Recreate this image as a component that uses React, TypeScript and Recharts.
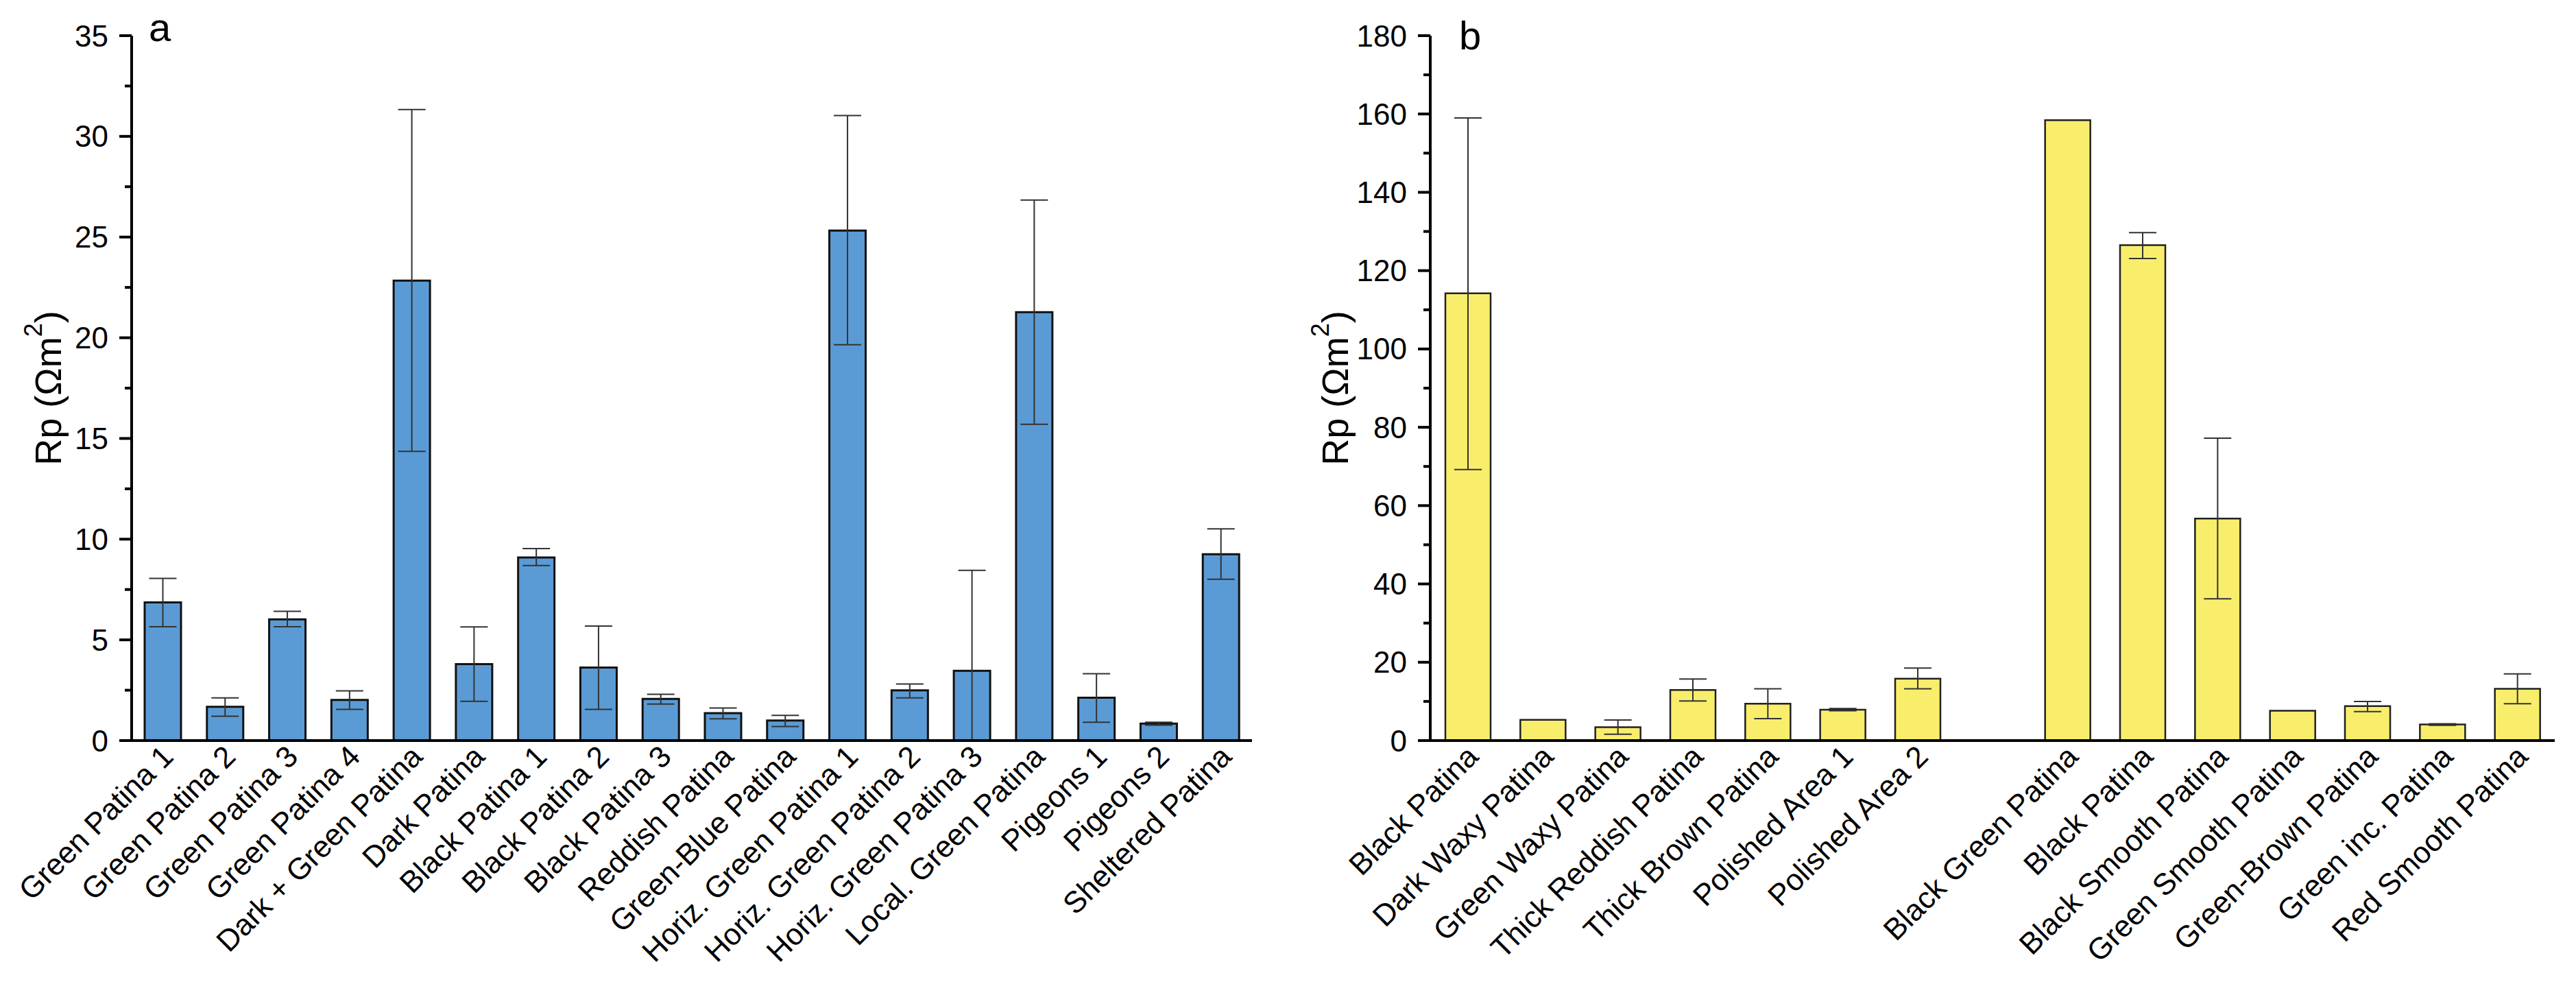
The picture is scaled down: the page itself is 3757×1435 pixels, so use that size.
import React from 'react';
import { BarChart, Bar, XAxis, YAxis, ErrorBar } from 'recharts';

// ---------- Panel a ----------
const namesA = [
  'Green Patina 1', 'Green Patina 2', 'Green Patina 3', 'Green Patina 4',
  'Dark + Green Patina', 'Dark Patina', 'Black Patina 1', 'Black Patina 2',
  'Black Patina 3', 'Reddish Patina', 'Green-Blue Patina', 'Horiz. Green Patina 1',
  'Horiz. Green Patina 2', 'Horiz. Green Patina 3', 'Local. Green Patina',
  'Pigeons 1', 'Pigeons 2', 'Sheltered Patina',
];
const valuesA = [6.86, 1.68, 6.02, 2.02, 22.84, 3.8, 9.09, 3.63, 2.07, 1.36, 1.0, 25.32, 2.49, 3.46, 21.27, 2.13, 0.84, 9.25];
const errLowA = [1.21, 0.47, 0.37, 0.47, 8.48, 1.85, 0.4, 2.08, 0.26, 0.28, 0.3, 5.67, 0.37, 3.46, 5.57, 1.22, 0.07, 1.24];
const errHighA = [1.19, 0.44, 0.4, 0.45, 8.49, 1.84, 0.44, 2.06, 0.23, 0.26, 0.25, 5.71, 0.32, 4.99, 5.57, 1.19, 0.07, 1.26];
const ticksA = [0, 2.5, 5, 7.5, 10, 12.5, 15, 17.5, 20, 22.5, 25, 27.5, 30, 32.5, 35];

// ---------- Panel b ----------
const namesB = [
  'Black Patina', 'Dark Waxy Patina', 'Green Waxy Patina', 'Thick Reddish Patina',
  'Thick Brown Patina', 'Polished Area 1', 'Polished Area 2', '',
  'Black Green Patina', 'Black Patina', 'Black Smooth Patina', 'Green Smooth Patina',
  'Green-Brown Patina', 'Green inc. Patina', 'Red Smooth Patina',
];
const valuesB = [114.2, 5.3, 3.4, 12.9, 9.4, 7.9, 15.8, null, 158.4, 126.5, 56.7, 7.6, 8.8, 4.1, 13.2];
const errLowB = [45.0, null, 1.8, 2.8, 3.8, 0.3, 2.6, null, null, 3.4, 20.5, null, 1.4, 0.2, 3.8];
const errHighB = [44.8, null, 1.85, 2.8, 3.8, 0.3, 2.7, null, null, 3.2, 20.5, null, 1.2, 0.2, 3.85];
const ticksB = [0, 10, 20, 30, 40, 50, 60, 70, 80, 90, 100, 110, 120, 130, 140, 150, 160, 170, 180];

const dataA = namesA.map((name, i) => ({ name, value: valuesA[i], err: [errLowA[i], errHighA[i]] }));
const dataB = namesB.map((name, i) => ({
  name,
  value: valuesB[i],
  err: errLowB[i] == null ? null : [errLowB[i], errHighB[i]],
}));

const FONT = '"Liberation Sans", Arial, Helvetica, sans-serif';

const makeYTick = (majorStep: number) => (props: any) => {
  const { x, y, payload } = props;
  const v = payload.value;
  const major = Math.abs(v / majorStep - Math.round(v / majorStep)) < 1e-6;
  return (
    <g>
      <line x1={x - (major ? 18 : 10)} x2={x} y1={y} y2={y} stroke="#000" strokeWidth={4} />
      {major && (
        <text x={x - 34} y={y} textAnchor="end" dominantBaseline="central" fontSize={44} fontFamily={FONT} fill="#000">
          {v}
        </text>
      )}
    </g>
  );
};

const XTick = (props: any) => {
  const { x, y, payload } = props;
  const ax = x + 18;
  const ay = y + 26;
  return (
    <text
      x={ax}
      y={ay}
      transform={`rotate(-45 ${ax} ${ay})`}
      textAnchor="end"
      fontSize={44}
      fontFamily={FONT}
      fill="#000"
    >
      {payload.value}
    </text>
  );
};

const makeAxisLabel = (letter: string, rpOffset: number, letterDx: number, letterBaseline: number) => (props: any) => {
  const vb = props.viewBox || {};
  const axisX = (vb.x || 0) + (vb.width || 0);
  const cx = axisX - rpOffset;
  const cy = (vb.y || 0) + (vb.height || 0) / 2;
  return (
    <g>
      <text
        x={cx}
        y={cy}
        transform={`rotate(-90 ${cx} ${cy})`}
        textAnchor="middle"
        dominantBaseline="central"
        fontSize={54}
        fontFamily={FONT}
        fill="#000"
      >
        Rp (Ωm<tspan dy={-22} fontSize={36}>2</tspan><tspan dy={22}>)</tspan>
      </text>
      <text x={axisX + letterDx} y={letterBaseline} fontSize={58} fontFamily={FONT} fill="#000">
        {letter}
      </text>
    </g>
  );
};

export default function App() {
  return (
    <div style={{ position: 'absolute', left: 0, top: 0, width: 3757, height: 1435, background: '#fff' }}>
      <div style={{ position: 'absolute', left: 0, top: 0 }}>
        <BarChart width={1850} height={1435} data={dataA} margin={{ top: 52, right: 24, bottom: 0, left: 0 }}>
          <XAxis
            dataKey="name"
            height={355}
            interval={0}
            tickLine={false}
            tickSize={0}
            tickMargin={0}
            axisLine={{ stroke: '#000', strokeWidth: 4 }}
            tick={XTick}
          />
          <YAxis
            type="number"
            width={192}
            domain={[0, 35]}
            ticks={ticksA}
            interval={0}
            tickLine={false}
            tickSize={0}
            tickMargin={0}
            axisLine={{ stroke: '#000', strokeWidth: 4 }}
            tick={makeYTick(5)}
            label={{ content: makeAxisLabel('a', 122, 25, 60) }}
          />
          <Bar dataKey="value" fill="#5B9BD5" stroke="#111" strokeWidth={3} barSize={53} isAnimationActive={false}>
            <ErrorBar dataKey="err" width={20} stroke="#333" strokeWidth={2} isAnimationActive={false} />
          </Bar>
        </BarChart>
      </div>
      <div style={{ position: 'absolute', left: 1860, top: 0 }}>
        <BarChart width={1897} height={1435} data={dataB} margin={{ top: 52, right: 31, bottom: 0, left: 0 }}>
          <XAxis
            dataKey="name"
            height={355}
            interval={0}
            tickLine={false}
            tickSize={0}
            tickMargin={0}
            axisLine={{ stroke: '#000', strokeWidth: 4 }}
            tick={XTick}
          />
          <YAxis
            type="number"
            width={226}
            domain={[0, 180]}
            ticks={ticksB}
            interval={0}
            tickLine={false}
            tickSize={0}
            tickMargin={0}
            axisLine={{ stroke: '#000', strokeWidth: 4 }}
            tick={makeYTick(20)}
            label={{ content: makeAxisLabel('b', 139, 42, 72) }}
          />
          <Bar dataKey="value" fill="#F8EE6C" stroke="#222" strokeWidth={2.5} barSize={66} isAnimationActive={false}>
            <ErrorBar dataKey="err" width={20} stroke="#333" strokeWidth={2} isAnimationActive={false} />
          </Bar>
        </BarChart>
      </div>
    </div>
  );
}
